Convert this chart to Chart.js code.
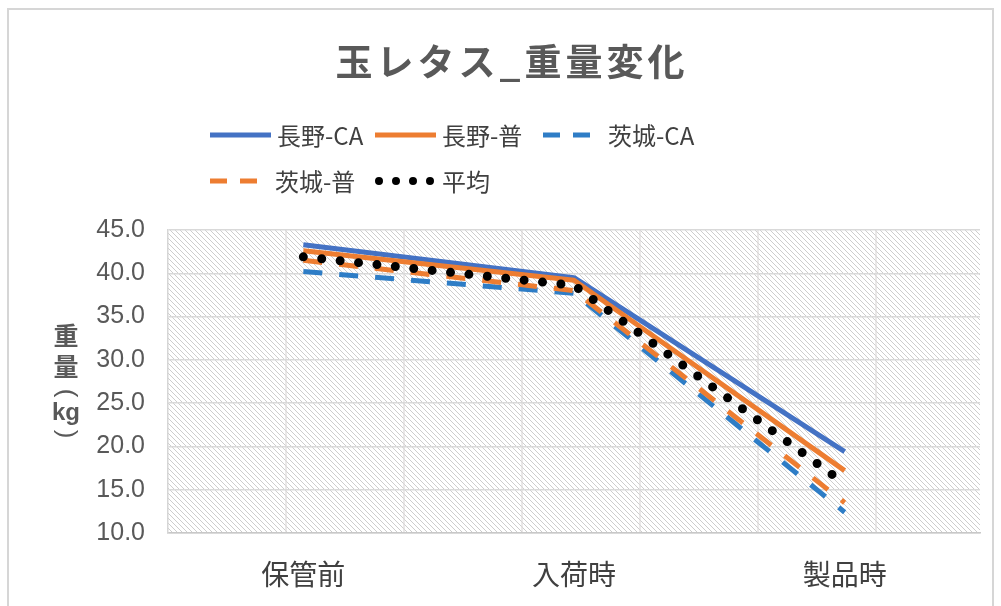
<!DOCTYPE html>
<html>
<head>
<meta charset="utf-8">
<script src="https://cdn.jsdelivr.net/npm/chart.js@4/dist/chart.umd.min.js"></script>
<style>
  html, body { margin: 0; padding: 0; background: #ffffff; }
  #wrap { width: 1001px; height: 606px; position: relative; }
</style>
</head>
<body>
<div id="wrap"><canvas id="c" width="1001" height="606"></canvas></div>
<script>
// ---- data ----
const chartTitle = '玉レタス_重量変化';
const yAxisTitle = ['重', '量', '(', 'kg', ')'];
const categories = ['保管前', '入荷時', '製品時'];
const seriesNames = ['長野-CA', '長野-普', '茨城-CA', '茨城-普', '平均'];
const naganoCA = [43.3, 39.5, 19.4];
const naganoFutsu = [42.6, 39.2, 17.2];
const ibarakiCA = [40.2, 37.7, 12.4];
const ibarakiFutsu = [41.5, 38.0, 13.5];
const heikin = [41.9, 38.6, 15.7];
const yMin = 10, yMax = 45, yStep = 5;

// ---- styles ----
const CJK = '"Noto Sans CJK JP", "Noto Sans", sans-serif';
const NUM = '"Liberation Sans", Arial, sans-serif';
const BLUE = '#4472C4';
const ORANGE = '#ED7D31';
const BLUE2 = '#2E7DC6';

function makePattern() {
  const t = document.createElement('canvas');
  t.width = 5; t.height = 5;
  const g = t.getContext('2d');
  g.fillStyle = '#ffffff';
  g.fillRect(0, 0, 5, 5);
  g.strokeStyle = '#cdcdcd';
  g.lineWidth = 1.0;
  g.beginPath();
  g.moveTo(-1, -1); g.lineTo(6, 6);
  g.moveTo(-1, 4); g.lineTo(1, 6);
  g.moveTo(4, -1); g.lineTo(6, 1);
  g.stroke();
  return t;
}

const bgPlugin = {
  id: 'bg',
  beforeDraw(chart) {
    const ctx = chart.ctx;
    const a = chart.chartArea;
    ctx.save();
    ctx.fillStyle = '#ffffff';
    ctx.fillRect(0, 0, chart.width, chart.height);
    ctx.strokeStyle = '#d6d6d6';
    ctx.lineWidth = 2;
    ctx.strokeRect(8, 9, 985, 640);
    ctx.fillStyle = ctx.createPattern(makePattern(), 'repeat');
    ctx.fillRect(a.left, a.top, a.right - a.left, a.bottom - a.top);
    // faint vertical lines of the picture fill
    ctx.strokeStyle = '#dcd9d9';
    ctx.lineWidth = 1.2;
    for (let x = a.left + 118; x < a.right - 5; x += 118) {
      ctx.beginPath();
      ctx.moveTo(x, a.top); ctx.lineTo(x, a.bottom);
      ctx.stroke();
    }
    ctx.restore();
  },
  afterDraw(chart) {
    const ctx = chart.ctx;
    ctx.save();
    // title
    ctx.fillStyle = '#595959';
    ctx.font = 'bold 37px ' + CJK;
    ctx.textAlign = 'center';
    ctx.textBaseline = 'middle';
    try { ctx.letterSpacing = '4px'; } catch (e) {}
    ctx.fillText(chartTitle, 512, 62);
    try { ctx.letterSpacing = '0px'; } catch (e) {}

    // y-axis title, stacked vertically (brackets turned sideways)
    ctx.fillStyle = '#595959';
    const ys = [335, 366, 393, 413, 434];
    yAxisTitle.forEach((s, i) => {
      if (s === 'kg') {
        ctx.font = 'bold 24px ' + NUM;
        ctx.fillText(s, 66, ys[i]);
      } else if (s === '(' || s === ')') {
        ctx.save();
        ctx.translate(66, ys[i]);
        ctx.rotate(Math.PI / 2);
        ctx.font = '26px ' + NUM;
        ctx.fillText(s, 0, 0);
        ctx.restore();
      } else {
        ctx.font = 'bold 25px ' + CJK;
        ctx.fillText(s, 66, ys[i]);
      }
    });

    // legend
    const slots = [
      {x: 210, y: 135}, {x: 375, y: 135}, {x: 541, y: 135},
      {x: 208, y: 181}, {x: 375, y: 181}
    ];
    chart.data.datasets.forEach((ds, i) => {
      const s = slots[i];
      ctx.save();
      ctx.strokeStyle = ds.borderColor;
      ctx.lineWidth = ds.legendKind === 'dot' ? 8 : ds.borderWidth;
      ctx.lineCap = ds.borderCapStyle || 'butt';
      ctx.beginPath();
      if (ds.legendKind === 'solid') {
        ctx.setLineDash([]);
        ctx.moveTo(s.x, s.y); ctx.lineTo(s.x + 61, s.y);
      } else if (ds.legendKind === 'dash') {
        ctx.setLineDash([17, 13]);
        ctx.moveTo(s.x + 2, s.y); ctx.lineTo(s.x + 49, s.y);
      } else {
        ctx.setLineDash([0, 17]);
        ctx.moveTo(s.x + 4, s.y); ctx.lineTo(s.x + 56, s.y);
      }
      ctx.stroke();
      ctx.restore();
      ctx.fillStyle = '#404040';
      ctx.font = '24px ' + CJK;
      ctx.textAlign = 'left';
      ctx.textBaseline = 'middle';
      ctx.fillText(ds.label, s.x + 67, s.y + 1);
    });
    ctx.restore();
  }
};

const datasets = [
  { label: seriesNames[0], data: naganoCA, borderColor: BLUE, borderWidth: 5, order: 5, legendKind: 'solid' },
  { label: seriesNames[1], data: naganoFutsu, borderColor: ORANGE, borderWidth: 5, order: 4, legendKind: 'solid' },
  { label: seriesNames[2], data: ibarakiCA, borderColor: BLUE2, borderWidth: 5, borderDash: [19, 17], order: 3, legendKind: 'dash' },
  { label: seriesNames[3], data: ibarakiFutsu, borderColor: ORANGE, borderWidth: 5, borderDash: [19, 17], order: 2, legendKind: 'dash' },
  { label: seriesNames[4], data: heikin, borderColor: '#000000', borderWidth: 9, borderDash: [0, 18.5], borderCapStyle: 'round', order: 1, legendKind: 'dot' }
].map(d => Object.assign({ pointRadius: 0, tension: 0, fill: false, borderJoinStyle: 'round' }, d));

new Chart(document.getElementById('c'), {
  type: 'line',
  data: { labels: categories, datasets },
  plugins: [bgPlugin],
  options: {
    responsive: false,
    animation: false,
    devicePixelRatio: 1,
    layout: { padding: { top: 230, right: 21, bottom: 0, left: 0 } },
    plugins: { legend: { display: false }, title: { display: false }, tooltip: { enabled: false } },
    scales: {
      x: {
        offset: true,
        grid: { display: false, drawTicks: false },
        border: { display: true, color: '#c8c8c8', width: 1.5 },
        ticks: { padding: 25, color: '#404040', font: { family: CJK, size: 28 } },
        afterFit(s) { s.height = 73; }
      },
      y: {
        min: yMin, max: yMax,
        grid: { color: '#d9d9d9', lineWidth: 1.5, drawTicks: false },
        border: { display: true, color: '#d6d6d6', width: 1.5 },
        ticks: { stepSize: yStep, padding: 23, color: '#595959', font: { family: NUM, size: 25 },
                 callback: v => Number(v).toFixed(1) },
        afterFit(s) { s.width = 168; }
      }
    }
  }
});
</script>
</body>
</html>
